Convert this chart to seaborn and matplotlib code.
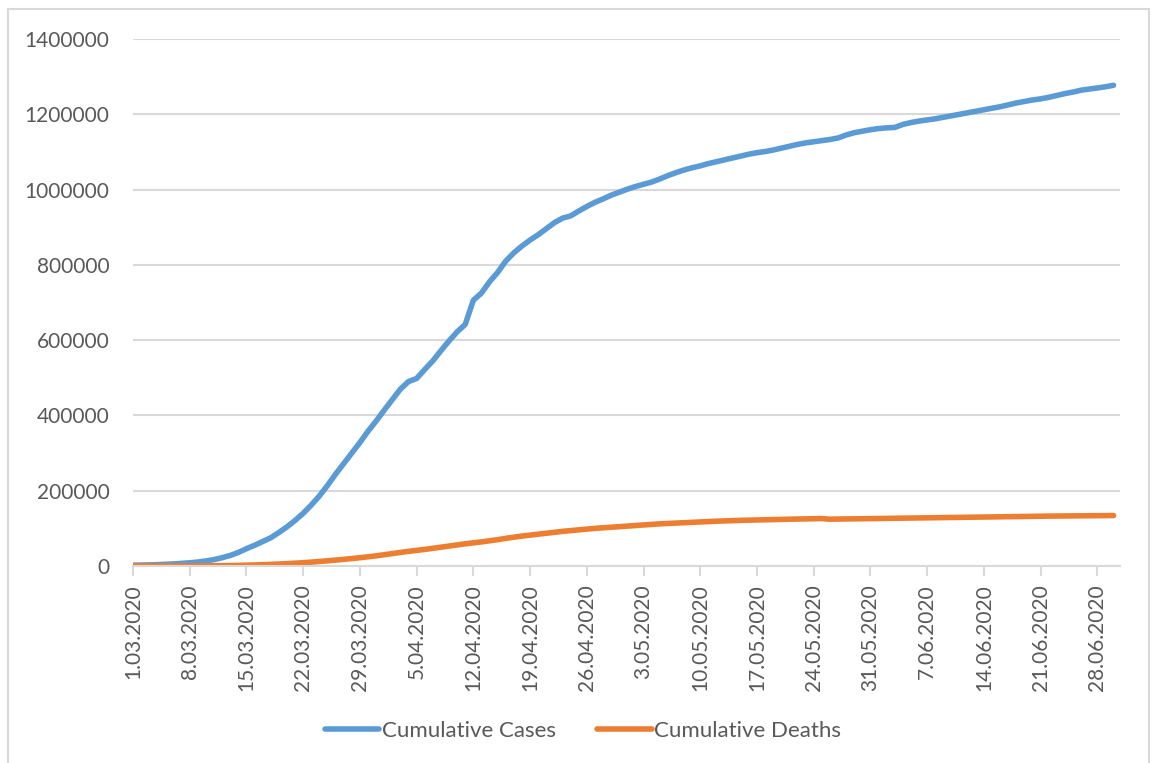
import matplotlib
matplotlib.use("Agg")
import matplotlib.pyplot as plt
from matplotlib.patches import Rectangle
from matplotlib.lines import Line2D
import numpy as np
import pandas as pd
import seaborn as sns

# Daily cumulative totals, 1 March – 30 June 2020
cumulative_cases = [
    2000, 2500, 3000, 3500, 4500, 5500, 7000, 8500, 10500, 13500,
    17000, 22000, 28000, 36000, 46000, 55000, 65000, 75000, 89000, 104000,
    121000, 140000, 162000, 186000, 214000, 244000, 272000, 300000, 328000, 358000,
    385000, 414000, 442000, 470000, 490000, 498000, 522000, 545000, 572000, 598000,
    622000, 642000, 706000, 725000, 755000, 780000, 810000, 832000, 850000, 866000,
    880000, 896000, 912000, 924000, 930000, 943000, 955000, 966000, 975000, 985000,
    993000, 1001000, 1008000, 1014000, 1020000, 1028000, 1037000, 1045000, 1052000, 1058000,
    1063000, 1069000, 1074000, 1079000, 1084000, 1089000, 1094000, 1098000, 1101000, 1105000,
    1110000, 1115000, 1120000, 1124000, 1127000, 1130000, 1133000, 1137000, 1145000, 1151000,
    1155000, 1159000, 1162000, 1164000, 1165000, 1173000, 1178000, 1182000, 1185000, 1188000,
    1192000, 1196000, 1200000, 1204000, 1208000, 1212000, 1216000, 1220000, 1225000, 1230000,
    1234000, 1238000, 1241000, 1245000, 1250000, 1255000, 1259000, 1264000, 1267000, 1270000,
    1273000, 1277000,
]
cumulative_deaths = [
    50, 60, 80, 100, 120, 150, 200, 250, 350, 500,
    700, 950, 1300, 1700, 2200, 2800, 3500, 4300, 5200, 6300,
    7500, 8800, 10300, 12000, 13800, 15700, 17700, 19800, 22000, 24500,
    27000, 30000, 33000, 36000, 39000, 41500, 44000, 47000, 50000, 53000,
    56000, 59000, 61500, 64000, 67000, 70000, 73500, 76500, 79500, 82000,
    84500, 87000, 89500, 92000, 94000, 96000, 98000, 100000, 101500, 103000,
    104500, 106000, 107500, 109000, 110500, 112000, 113000, 114000, 115000, 116000,
    117000, 118000, 119000, 119800, 120500, 121200, 121800, 122300, 122800, 123300,
    123800, 124300, 124800, 125200, 125600, 126000, 124300, 124700, 125000, 125300,
    125600, 125900, 126200, 126500, 126800, 127100, 127400, 127700, 128000, 128300,
    128600, 128900, 129200, 129500, 129800, 130100, 130400, 130700, 131000, 131300,
    131600, 131900, 132200, 132500, 132700, 132900, 133100, 133300, 133500, 133700,
    133900, 134100,
]
dates = pd.date_range("2020-03-01", periods=len(cumulative_cases), freq="D")
series_names = ["Cumulative Cases", "Cumulative Deaths"]
series_colors = ["#5B9BD5", "#ED7D31"]
tick_labels = [
    "1.03.2020", "8.03.2020", "15.03.2020", "22.03.2020", "29.03.2020",
    "5.04.2020", "12.04.2020", "19.04.2020", "26.04.2020", "3.05.2020",
    "10.05.2020", "17.05.2020", "24.05.2020", "31.05.2020", "7.06.2020",
    "14.06.2020", "21.06.2020", "28.06.2020",
]
y_ticks = [0, 200000, 400000, 600000, 800000, 1000000, 1200000, 1400000]

day = np.arange(len(dates))
df = pd.DataFrame({
    "day": np.concatenate([day, day]),
    "value": cumulative_cases + cumulative_deaths,
    "series": [series_names[0]] * len(day) + [series_names[1]] * len(day),
})

sns.set_theme(style="white")
plt.rcParams["font.family"] = ["Lato", "DejaVu Sans"]
text_color = "#595959"
grid_color = "#D9D9D9"

W, H = 1152, 763
fig = plt.figure(figsize=(W / 100, H / 100), dpi=100)
fig.patch.set_facecolor("white")
# outer chart frame
fig.patches.append(Rectangle((8 / W, -0.01), (1149 - 8) / W, 1.01 - 9 / H,
                             transform=fig.transFigure, fill=False,
                             edgecolor=grid_color, linewidth=1.5))

ax = fig.add_axes([133 / W, 1 - 566 / H, (1120 - 133) / W, (566 - 39) / H])
sns.lineplot(data=df, x="day", y="value", hue="series", hue_order=series_names,
             palette=series_colors, linewidth=4.0, ax=ax, legend=False,
             solid_capstyle="round")

ax.set_xlim(0, 121.8)
ax.set_ylim(0, 1400000)
ax.set_yticks(y_ticks)
ax.set_yticklabels([str(v) for v in y_ticks])
ax.set_xticks(np.arange(0, len(dates), 7))
ax.set_xticklabels(tick_labels, rotation=90, va="top", ha="center")
ax.set_xlabel("")
ax.set_ylabel("")

ax.yaxis.grid(True, color=grid_color, linewidth=1.5)
ax.set_axisbelow(True)
for side in ["left", "right", "top"]:
    ax.spines[side].set_visible(False)
ax.spines["bottom"].set_color(grid_color)
ax.spines["bottom"].set_linewidth(1.5)
ax.tick_params(axis="y", length=0, pad=17, labelsize=15, labelcolor=text_color)
ax.tick_params(axis="x", length=7, width=1.5, color=grid_color, pad=6,
               labelsize=15, labelcolor=text_color, bottom=True)

# legend below the plot
handles = [Line2D([0], [0], color=c, linewidth=4.0, solid_capstyle="round")
           for c in series_colors]
fig.legend(handles, series_names, loc="center", bbox_to_anchor=(583 / W, 1 - 731 / H),
           ncol=2, frameon=False, fontsize=16, labelcolor=text_color,
           handlelength=2.45, handletextpad=0.12, columnspacing=1.85)

fig.savefig("out.png", dpi=100, facecolor="white")
